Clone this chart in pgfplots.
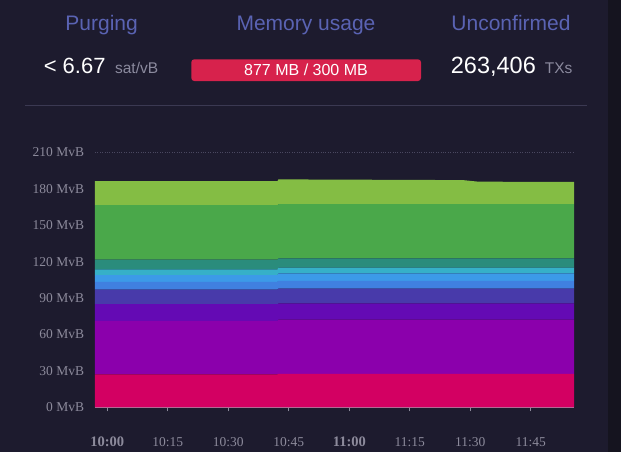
\documentclass[border=0pt]{standalone}
\usepackage{fontspec}
\setmainfont{Liberation Serif}
\newfontfamily\headfont{Liberation Sans}
\usepackage{pgfplots}
\usepackage{pgfplotstable}
\pgfplotsset{compat=1.18}

\definecolor{bg}{HTML}{1D1B2E}
\definecolor{strip}{HTML}{15141F}
\definecolor{titlec}{HTML}{5A63B3}
\definecolor{unitc}{HTML}{8B8A9E}
\definecolor{redbox}{HTML}{D7224C}
\definecolor{sepc}{HTML}{3B3952}
\definecolor{tickc}{HTML}{8C8A9B}
\definecolor{gridc}{HTML}{4A4860}
% fee bands, bottom to top
\definecolor{c1}{HTML}{D30062}
\definecolor{c2}{HTML}{8B00AC}
\definecolor{c3}{HTML}{640AB4}
\definecolor{c4}{HTML}{483AAA}
\definecolor{c5}{HTML}{4080E0}
\definecolor{c6}{HTML}{3C9AE8}
\definecolor{c7}{HTML}{36B0C8}
\definecolor{c8}{HTML}{2A8C7C}
\definecolor{c9}{HTML}{4AA84A}
\definecolor{c10}{HTML}{84BD44}

% minutes after 10:00, MvB per band
\pgfplotstableread{
t      a    b    c    d    e   f   g   h   i    j
-3.05  27.2 43.9 13.8 12.1 6.3 5.5 4.7 8.2 44.8 19.8
42.2   27.2 43.9 13.8 12.1 6.3 5.5 4.7 8.2 44.8 19.8
42.4   27.6 44.7 13.2 12.3 6.3 6.1 4.9 7.5 44.7 20.4
88.2   27.6 44.7 13.2 12.3 6.3 6.1 4.9 7.5 44.7 19.8
92.0   27.6 44.7 13.2 12.3 6.3 6.1 4.9 7.5 44.7 18.5
115.7  27.6 44.7 13.2 12.3 6.3 6.1 4.9 7.5 44.7 18.3
}\mempool

\begin{document}
\begin{tikzpicture}
\fill[bg] (0,0) rectangle (621pt,-452pt);
\fill[strip] (608pt,0) rectangle (621pt,-452pt);

% header
\begin{scope}[every node/.style={inner sep=0pt}]
\node[anchor=base, text=titlec] at (101.6pt,-31pt) {\headfont\fontsize{21}{21}\selectfont Purging};
\node[anchor=base, text=titlec] at (306pt,-31pt) {\headfont\fontsize{21}{21}\selectfont Memory usage};
\node[anchor=base, text=titlec] at (511pt,-31pt) {\headfont\fontsize{21}{21}\selectfont Unconfirmed};
\node[anchor=base west, text=white] at (43.6pt,-74pt) {\headfont\fontsize{22}{22}\selectfont < 6.67};
\node[anchor=base west, text=unitc] at (114.9pt,-74pt) {\headfont\fontsize{15.5}{16}\selectfont sat/vB};
\fill[redbox, rounded corners=3pt] (191.3pt,-59.3pt) rectangle (421pt,-81pt);
\node[anchor=base, text=white] at (306pt,-75pt) {\headfont\fontsize{16}{16}\selectfont 877 MB / 300 MB};
\node[anchor=base west, text=white] at (450.7pt,-74pt) {\headfont\fontsize{23.5}{24}\selectfont 263,406};
\node[anchor=base west, text=unitc] at (544.6pt,-74pt) {\headfont\fontsize{15.5}{16}\selectfont TXs};
\end{scope}
\draw[sepc, line width=1pt] (25pt,-105pt) -- (587pt,-105pt);

\begin{axis}[
  at={(95pt,-407.3pt)}, anchor=south west,
  scale only axis, width=479pt, height=255pt,
  xmin=-3.05, xmax=115.7, ymin=0, ymax=210,
  stack plots=y,
  axis x line*=bottom, axis y line*=left,
  x axis line style={tickc!80, line width=0.8pt, -},
  y axis line style={draw=none},
  xtick={0,15,30,45,60,75,90,105},
  xticklabels={\textbf{\fontsize{14.5}{15}\selectfont 10:00},10:15,10:30,10:45,\textbf{\fontsize{14.5}{15}\selectfont 11:00},11:15,11:30,11:45},
  ytick={0,30,...,210},
  yticklabel={\pgfmathprintnumber{\tick} MvB},
  /pgf/number format/assume math mode=true,
  tick align=outside, major tick length=4pt,
  xtick style={tickc, line width=0.8pt},
  ytick style={draw=none},
  ymajorgrids, grid style={gridc, dotted, line width=0.8pt},
  ticklabel style={font=\fontsize{13.5}{14}\selectfont, text=tickc, inner sep=0pt},
  xticklabel style={anchor=base, yshift=-35.4pt},
  yticklabel style={anchor=east, xshift=-6.7pt},
  clip=false,
]
\addplot[fill=c1, draw=none] table[x=t, y=a] {\mempool} \closedcycle;
\addplot[fill=c2, draw=none] table[x=t, y=b] {\mempool} \closedcycle;
\addplot[fill=c3, draw=none] table[x=t, y=c] {\mempool} \closedcycle;
\addplot[fill=c4, draw=none] table[x=t, y=d] {\mempool} \closedcycle;
\addplot[fill=c5, draw=none] table[x=t, y=e] {\mempool} \closedcycle;
\addplot[fill=c6, draw=none] table[x=t, y=f] {\mempool} \closedcycle;
\addplot[fill=c7, draw=none] table[x=t, y=g] {\mempool} \closedcycle;
\addplot[fill=c8, draw=none] table[x=t, y=h] {\mempool} \closedcycle;
\addplot[fill=c9, draw=none] table[x=t, y=i] {\mempool} \closedcycle;
\addplot[fill=c10, draw=none] table[x=t, y=j] {\mempool} \closedcycle;
\end{axis}
\end{tikzpicture}
\end{document}
